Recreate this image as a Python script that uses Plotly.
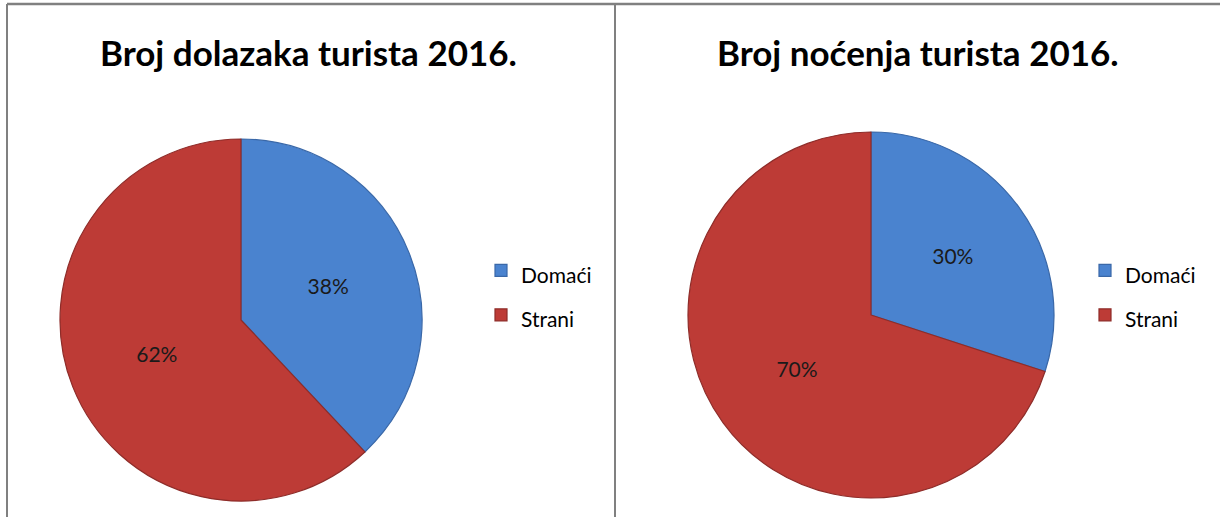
import plotly.graph_objects as go

labels = ["Domaći", "Strani"]
dolasci_pct = [38, 62]
nocenja_pct = [30, 70]
titles = ["Broj dolazaka turista 2016.", "Broj noćenja turista 2016."]
colors = ["#4a83cf", "#bd3b36"]
edge_colors = ["#3a68a8", "#8e2c29"]

W, H = 1220, 517

def px(x):
    return x / W

def py(y):
    return 1 - y / H

leg_labels = ["<span style='font-size:21px'>%s</span>" % l for l in labels]

fig = go.Figure()
fig.add_trace(go.Pie(
    labels=leg_labels, values=dolasci_pct, sort=False, direction="clockwise", rotation=0,
    marker=dict(colors=colors, line=dict(color=edge_colors, width=1.2)),
    textinfo="percent", textposition="inside", insidetextorientation="horizontal",
    textfont=dict(family="Lato", size=21, color="#1a1a1a"),
    domain=dict(x=[px(60), px(422)], y=[py(501), py(139)]),
    legend="legend", legendgroup="dolasci", hoverinfo="label+percent",
))
fig.add_trace(go.Pie(
    labels=leg_labels, values=nocenja_pct, sort=False, direction="clockwise", rotation=0,
    marker=dict(colors=colors, line=dict(color=edge_colors, width=1.2)),
    textinfo="percent", textposition="inside", insidetextorientation="horizontal",
    textfont=dict(family="Lato", size=21, color="#1a1a1a"),
    domain=dict(x=[px(688), px(1054)], y=[py(498), py(132)]),
    legend="legend2", legendgroup="nocenja", hoverinfo="label+percent",
))

line_col = "#808080"
shapes = [
    dict(type="line", xref="paper", yref="paper", x0=px(7), x1=1, y0=py(4), y1=py(4),
         line=dict(color=line_col, width=2.5)),
    dict(type="line", xref="paper", yref="paper", x0=px(7), x1=px(7), y0=0, y1=py(4),
         line=dict(color=line_col, width=2)),
    dict(type="line", xref="paper", yref="paper", x0=px(615), x1=px(615), y0=0, y1=py(4),
         line=dict(color=line_col, width=2)),
]

annotations = [
    dict(text="<b>%s</b>" % titles[0], xref="paper", yref="paper", x=px(308), y=py(52),
         xanchor="center", yanchor="middle", showarrow=False,
         font=dict(family="Lato", size=35, color="#000000")),
    dict(text="<b>%s</b>" % titles[1], xref="paper", yref="paper", x=px(918), y=py(52),
         xanchor="center", yanchor="middle", showarrow=False,
         font=dict(family="Lato", size=35, color="#000000")),
]

leg_common = dict(font=dict(family="Lato", size=32, color="#000000"), bgcolor="rgba(0,0,0,0)",
                  yanchor="middle", xanchor="left", tracegroupgap=0)

fig.update_layout(
    width=W, height=H,
    margin=dict(l=0, r=0, t=0, b=0),
    paper_bgcolor="white", plot_bgcolor="white",
    shapes=shapes, annotations=annotations,
    showlegend=True,
    legend=dict(x=px(481), y=py(293), **leg_common),
    legend2=dict(x=px(1085), y=py(293), **leg_common),
)

fig.write_html("out.html", config={"displayModeBar": False},
               post_script="document.body.style.margin='0';")
